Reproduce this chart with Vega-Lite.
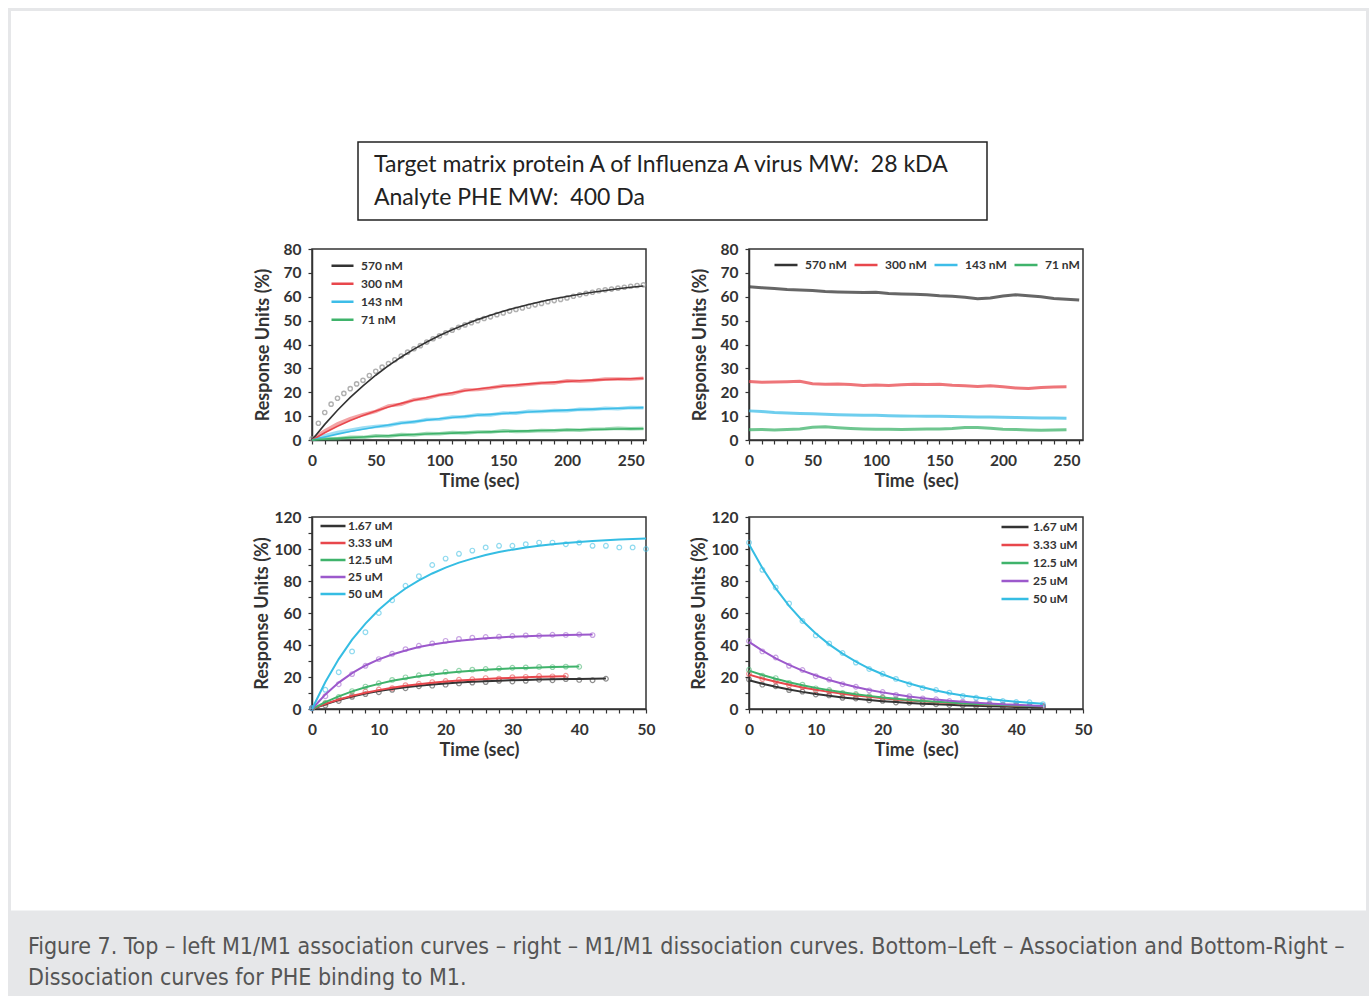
{
"$schema": "https://vega.github.io/schema/vega-lite/v6.json",
"background": "white",
"padding": {"left": 8, "top": 8, "right": 3, "bottom": 0},
"config": {
  "font": "Lato",
  "view": {"stroke": "#333333", "strokeWidth": 1.5},
  "axis": {"labelFont": "Lato", "labelFontSize": 15.5, "labelFontWeight": "bold", "labelColor": "#333333", "titleFont": "Lato", "titleFontSize": 18, "titleFontWeight": "bold", "titleColor": "#333333", "domainColor": "#333333", "domainWidth": 1.5, "tickColor": "#333333", "tickWidth": 1.2, "tickSize": 4, "grid": false, "labelFlush": false, "labelOverlap": false},
  "axisX": {"labelPadding": 9, "titlePadding": 4},
  "axisY": {"labelPadding": 7},
  "legend": {"labelFont": "Lato", "labelFontSize": 12, "labelFontWeight": "bold", "labelColor": "#333333", "symbolType": "stroke", "symbolOpacity": 1, "symbolStrokeWidth": 2.5, "padding": 0}
},
"bounds": "flush",
"spacing": 770,
"resolve": {"scale": {"x": "independent", "y": "independent", "color": "independent"}, "legend": {"color": "independent"}},
"vconcat": [
  {
    "bounds": "flush",
    "spacing": 29,
    "resolve": {"scale": {"x": "independent", "y": "independent", "color": "independent"}, "legend": {"color": "independent"}},
    "vconcat": [
      {
        "width": 770, "height": 78,
        "view": {"stroke": null},
        "data": {"values": [{"id": 1}]},
        "layer": [
          {"mark": {"type": "rect", "filled": false, "color": "#222222", "strokeWidth": 1.5},
           "encoding": {
             "x": {"datum": 46, "type": "quantitative", "scale": {"domain": [0, 770], "nice": false, "zero": false}, "axis": null},
             "x2": {"datum": 675},
             "y": {"datum": 0, "type": "quantitative", "scale": {"domain": [0, 78], "nice": false, "reverse": true}, "axis": null},
             "y2": {"datum": 78}}},
          {"mark": {"type": "text", "align": "left", "baseline": "alphabetic", "font": "Lato", "fontSize": 23, "lineHeight": 33, "color": "#222222"},
           "encoding": {
             "x": {"datum": 62, "type": "quantitative"},
             "y": {"datum": 30, "type": "quantitative"},
             "text": {"value": ["Target matrix protein A of Influenza A virus MW:\u00a0 28 kDA", "Analyte PHE MW:\u00a0 400 Da"]}}}
        ]
      },
      {
        "columns": 2,
        "bounds": "flush",
        "spacing": {"row": 77, "column": 103},
        "resolve": {"scale": {"x": "independent", "y": "independent", "color": "independent"}, "legend": {"color": "independent"}},
        "concat": [
          {
            "width": 334, "height": 191,
            "data": {"values": [
{"s":"570 nM","t":0,"fit":0,"obs":0.5},{"s":"570 nM","t":5,"obs":7},{"s":"570 nM","t":10,"fit":6.54,"obs":11.5},{"s":"570 nM","t":15,"obs":15},{"s":"570 nM","t":20,"fit":12.47,"obs":17.5},{"s":"570 nM","t":25,"obs":19.5},{"s":"570 nM","t":30,"fit":17.83,"obs":21.5},{"s":"570 nM","t":35,"obs":23.5},{"s":"570 nM","t":40,"fit":22.7,"obs":25},{"s":"570 nM","t":45,"obs":27},{"s":"570 nM","t":50,"fit":27.12,"obs":28.8},{"s":"570 nM","t":55,"obs":30.5},{"s":"570 nM","t":60,"fit":31.12,"obs":32},{"s":"570 nM","t":65,"obs":33.6},{"s":"570 nM","t":70,"fit":34.75,"obs":35.2},{"s":"570 nM","t":75,"obs":36.8},{"s":"570 nM","t":80,"fit":38.05,"obs":38.2},{"s":"570 nM","t":85,"obs":39.5},{"s":"570 nM","t":90,"fit":41.03,"obs":41},{"s":"570 nM","t":95,"obs":42.4},{"s":"570 nM","t":100,"fit":43.73,"obs":43.6},{"s":"570 nM","t":105,"obs":44.9},{"s":"570 nM","t":110,"fit":46.18,"obs":46},{"s":"570 nM","t":115,"obs":47.2},{"s":"570 nM","t":120,"fit":48.41,"obs":48.2},{"s":"570 nM","t":125,"obs":49.1},{"s":"570 nM","t":130,"fit":50.42,"obs":50},{"s":"570 nM","t":135,"obs":50.9},{"s":"570 nM","t":140,"fit":52.25,"obs":51.6},{"s":"570 nM","t":145,"obs":52.5},{"s":"570 nM","t":150,"fit":53.91,"obs":53.2},{"s":"570 nM","t":155,"obs":54},{"s":"570 nM","t":160,"fit":55.41,"obs":54.7},{"s":"570 nM","t":165,"obs":55.3},{"s":"570 nM","t":170,"fit":56.77,"obs":56},{"s":"570 nM","t":175,"obs":56.6},{"s":"570 nM","t":180,"fit":58.01,"obs":57.2},{"s":"570 nM","t":185,"obs":57.9},{"s":"570 nM","t":190,"fit":59.13,"obs":58.4},{"s":"570 nM","t":195,"obs":58.9},{"s":"570 nM","t":200,"fit":60.14,"obs":59.5},{"s":"570 nM","t":205,"obs":60.2},{"s":"570 nM","t":210,"fit":61.06,"obs":60.8},{"s":"570 nM","t":215,"obs":61.4},{"s":"570 nM","t":220,"fit":61.89,"obs":61.9},{"s":"570 nM","t":225,"obs":62.5},{"s":"570 nM","t":230,"fit":62.65,"obs":62.9},{"s":"570 nM","t":235,"obs":63.2},{"s":"570 nM","t":240,"fit":63.34,"obs":63.6},{"s":"570 nM","t":245,"obs":64},{"s":"570 nM","t":250,"fit":63.96,"obs":64.4},{"s":"570 nM","t":255,"obs":64.7},{"s":"570 nM","t":260,"fit":64.53,"obs":65},
{"s":"300 nM","t":0,"fit":0,"obs":0.3},{"s":"300 nM","t":10,"fit":3.05,"obs":3.8},{"s":"300 nM","t":20,"fit":5.76,"obs":6.8},{"s":"300 nM","t":30,"fit":8.16,"obs":8.9},{"s":"300 nM","t":40,"fit":10.29,"obs":10.6},{"s":"300 nM","t":50,"fit":12.18,"obs":12.0},{"s":"300 nM","t":60,"fit":13.86,"obs":14.3},{"s":"300 nM","t":70,"fit":15.34,"obs":15.0},{"s":"300 nM","t":80,"fit":16.66,"obs":16.9},{"s":"300 nM","t":90,"fit":17.83,"obs":17.5},{"s":"300 nM","t":100,"fit":18.87,"obs":18.9},{"s":"300 nM","t":110,"fit":19.79,"obs":19.4},{"s":"300 nM","t":120,"fit":20.6,"obs":20.9},{"s":"300 nM","t":130,"fit":21.33,"obs":21.1},{"s":"300 nM","t":140,"fit":21.97,"obs":21.8},{"s":"300 nM","t":150,"fit":22.54,"obs":22.7},{"s":"300 nM","t":160,"fit":23.04,"obs":22.8},{"s":"300 nM","t":170,"fit":23.49,"obs":23.3},{"s":"300 nM","t":180,"fit":23.89,"obs":23.9},{"s":"300 nM","t":190,"fit":24.24,"obs":23.9},{"s":"300 nM","t":200,"fit":24.55,"obs":24.8},{"s":"300 nM","t":210,"fit":24.83,"obs":24.6},{"s":"300 nM","t":220,"fit":25.07,"obs":24.9},{"s":"300 nM","t":230,"fit":25.29,"obs":25.5},{"s":"300 nM","t":240,"fit":25.48,"obs":25.6},{"s":"300 nM","t":250,"fit":25.66,"obs":25.4},{"s":"300 nM","t":260,"fit":25.81,"obs":25.9},
{"s":"143 nM","t":0,"fit":0,"obs":0.2},{"s":"143 nM","t":10,"fit":1.29,"obs":1.8},{"s":"143 nM","t":20,"fit":2.47,"obs":3.2},{"s":"143 nM","t":30,"fit":3.55,"obs":4.1},{"s":"143 nM","t":40,"fit":4.53,"obs":5.0},{"s":"143 nM","t":50,"fit":5.44,"obs":5.7},{"s":"143 nM","t":60,"fit":6.26,"obs":6.1},{"s":"143 nM","t":70,"fit":7.01,"obs":7.2},{"s":"143 nM","t":80,"fit":7.7,"obs":7.5},{"s":"143 nM","t":90,"fit":8.33,"obs":8.6},{"s":"143 nM","t":100,"fit":8.9,"obs":8.7},{"s":"143 nM","t":110,"fit":9.43,"obs":9.6},{"s":"143 nM","t":120,"fit":9.91,"obs":9.7},{"s":"143 nM","t":130,"fit":10.34,"obs":10.6},{"s":"143 nM","t":140,"fit":10.74,"obs":10.5},{"s":"143 nM","t":150,"fit":11.11,"obs":11.3},{"s":"143 nM","t":160,"fit":11.45,"obs":11.2},{"s":"143 nM","t":170,"fit":11.75,"obs":12.0},{"s":"143 nM","t":180,"fit":12.03,"obs":11.9},{"s":"143 nM","t":190,"fit":12.29,"obs":12.4},{"s":"143 nM","t":200,"fit":12.52,"obs":12.3},{"s":"143 nM","t":210,"fit":12.73,"obs":12.9},{"s":"143 nM","t":220,"fit":12.93,"obs":12.8},{"s":"143 nM","t":230,"fit":13.11,"obs":13.3},{"s":"143 nM","t":240,"fit":13.27,"obs":13.1},{"s":"143 nM","t":250,"fit":13.42,"obs":13.6},{"s":"143 nM","t":260,"fit":13.56,"obs":13.5},
{"s":"71 nM","t":0,"fit":0,"obs":0.3},{"s":"71 nM","t":10,"fit":0.35,"obs":0.6},{"s":"71 nM","t":20,"fit":0.68,"obs":0.5},{"s":"71 nM","t":30,"fit":0.99,"obs":1.2},{"s":"71 nM","t":40,"fit":1.28,"obs":1.1},{"s":"71 nM","t":50,"fit":1.56,"obs":1.8},{"s":"71 nM","t":60,"fit":1.81,"obs":1.6},{"s":"71 nM","t":70,"fit":2.06,"obs":2.3},{"s":"71 nM","t":80,"fit":2.29,"obs":2.1},{"s":"71 nM","t":90,"fit":2.5,"obs":2.7},{"s":"71 nM","t":100,"fit":2.71,"obs":2.6},{"s":"71 nM","t":110,"fit":2.9,"obs":3.1},{"s":"71 nM","t":120,"fit":3.08,"obs":2.9},{"s":"71 nM","t":130,"fit":3.25,"obs":3.4},{"s":"71 nM","t":140,"fit":3.41,"obs":3.3},{"s":"71 nM","t":150,"fit":3.56,"obs":3.9},{"s":"71 nM","t":160,"fit":3.7,"obs":3.6},{"s":"71 nM","t":170,"fit":3.84,"obs":3.7},{"s":"71 nM","t":180,"fit":3.96,"obs":4.0},{"s":"71 nM","t":190,"fit":4.08,"obs":3.9},{"s":"71 nM","t":200,"fit":4.19,"obs":4.3},{"s":"71 nM","t":210,"fit":4.3,"obs":4.1},{"s":"71 nM","t":220,"fit":4.4,"obs":4.5},{"s":"71 nM","t":230,"fit":4.49,"obs":4.6},{"s":"71 nM","t":240,"fit":4.58,"obs":4.9},{"s":"71 nM","t":250,"fit":4.66,"obs":4.7},{"s":"71 nM","t":260,"fit":4.74,"obs":4.8}
            ]},
            "encoding": {"x": {"field": "t", "type": "quantitative", "scale": {"domain": [0, 262], "nice": false}, "axis": {"title": "Time (sec)", "values": [0,10,20,30,40,50,60,70,80,90,100,110,120,130,140,150,160,170,180,190,200,210,220,230,240,250,260], "labelExpr": "datum.value % 50 === 0 ? datum.label : ''"}}},
            "layer": [
              {"transform": [{"filter": "datum.s !== '570 nM'"}],
               "mark": {"type": "line", "strokeWidth": 3.5, "opacity": 0.5},
               "encoding": {
                 "y": {"field": "obs", "type": "quantitative", "scale": {"domain": [0, 80], "nice": false}, "axis": {"title": "Response Units (%)", "values": [0,10,20,30,40,50,60,70,80], "titlePadding": 11}},
                 "color": {"field": "s", "type": "nominal", "scale": {"domain": ["570 nM","300 nM","143 nM","71 nM"], "range": ["#333333","#e8474c","#3dbde8","#3fb36b"]}, "legend": {"title": null, "orient": "none", "legendX": 18, "legendY": 8, "symbolType": "stroke", "symbolSize": 484, "clipHeight": 17.3, "rowPadding": 0, "labelOffset": 6}}}},
              {"transform": [{"filter": "datum.s === '570 nM'"}],
               "mark": {"type": "point", "filled": false, "color": "#8f8f8f", "size": 18, "strokeWidth": 1.4},
               "encoding": {"y": {"field": "obs", "type": "quantitative", "scale": {"domain": [0, 80], "nice": false}, "axis": {"title": "Response Units (%)", "values": [0,10,20,30,40,50,60,70,80], "titlePadding": 11}}}},
              {"transform": [{"filter": "isValid(datum.fit)"}],
               "mark": {"type": "line", "strokeWidth": 1.6},
               "encoding": {
                 "y": {"field": "fit", "type": "quantitative", "scale": {"domain": [0, 80], "nice": false}, "axis": {"title": "Response Units (%)", "values": [0,10,20,30,40,50,60,70,80], "titlePadding": 11}},
                 "color": {"field": "s", "type": "nominal", "scale": {"domain": ["570 nM","300 nM","143 nM","71 nM"], "range": ["#333333","#e8474c","#3dbde8","#3fb36b"]}, "legend": {"title": null, "orient": "none", "legendX": 18, "legendY": 8, "symbolType": "stroke", "symbolSize": 484, "clipHeight": 17.3, "rowPadding": 0, "labelOffset": 6}}}}
            ]
          },
          {
            "width": 334, "height": 191,
            "data": {"values": [
{"s":"570 nM","t":0,"y":64.2},{"s":"570 nM","t":10,"y":63.8},{"s":"570 nM","t":20,"y":63.5},{"s":"570 nM","t":30,"y":63},{"s":"570 nM","t":40,"y":62.8},{"s":"570 nM","t":50,"y":62.6},{"s":"570 nM","t":60,"y":62.2},{"s":"570 nM","t":70,"y":62},{"s":"570 nM","t":80,"y":61.9},{"s":"570 nM","t":90,"y":61.8},{"s":"570 nM","t":100,"y":61.9},{"s":"570 nM","t":110,"y":61.4},{"s":"570 nM","t":120,"y":61.2},{"s":"570 nM","t":130,"y":61},{"s":"570 nM","t":140,"y":60.8},{"s":"570 nM","t":150,"y":60.4},{"s":"570 nM","t":160,"y":60.2},{"s":"570 nM","t":170,"y":59.8},{"s":"570 nM","t":180,"y":59.2},{"s":"570 nM","t":190,"y":59.5},{"s":"570 nM","t":200,"y":60.3},{"s":"570 nM","t":210,"y":60.8},{"s":"570 nM","t":220,"y":60.4},{"s":"570 nM","t":230,"y":60},{"s":"570 nM","t":240,"y":59.3},{"s":"570 nM","t":250,"y":59},{"s":"570 nM","t":260,"y":58.6},
{"s":"300 nM","t":0,"y":24.5},{"s":"300 nM","t":10,"y":24.2},{"s":"300 nM","t":20,"y":24.3},{"s":"300 nM","t":30,"y":24.4},{"s":"300 nM","t":40,"y":24.6},{"s":"300 nM","t":50,"y":23.6},{"s":"300 nM","t":60,"y":23.4},{"s":"300 nM","t":70,"y":23.5},{"s":"300 nM","t":80,"y":23.2},{"s":"300 nM","t":90,"y":22.8},{"s":"300 nM","t":100,"y":23},{"s":"300 nM","t":110,"y":22.8},{"s":"300 nM","t":120,"y":23.1},{"s":"300 nM","t":130,"y":23.4},{"s":"300 nM","t":140,"y":23.2},{"s":"300 nM","t":150,"y":23.3},{"s":"300 nM","t":160,"y":22.9},{"s":"300 nM","t":170,"y":22.7},{"s":"300 nM","t":180,"y":22.4},{"s":"300 nM","t":190,"y":22.7},{"s":"300 nM","t":200,"y":22.3},{"s":"300 nM","t":210,"y":21.8},{"s":"300 nM","t":220,"y":21.6},{"s":"300 nM","t":230,"y":22},{"s":"300 nM","t":240,"y":22.2},{"s":"300 nM","t":250,"y":22.3},
{"s":"143 nM","t":0,"y":12.2},{"s":"143 nM","t":10,"y":11.9},{"s":"143 nM","t":20,"y":11.5},{"s":"143 nM","t":30,"y":11.3},{"s":"143 nM","t":40,"y":11.1},{"s":"143 nM","t":50,"y":11},{"s":"143 nM","t":60,"y":10.8},{"s":"143 nM","t":70,"y":10.6},{"s":"143 nM","t":80,"y":10.5},{"s":"143 nM","t":90,"y":10.4},{"s":"143 nM","t":100,"y":10.4},{"s":"143 nM","t":110,"y":10.2},{"s":"143 nM","t":120,"y":10.1},{"s":"143 nM","t":130,"y":10},{"s":"143 nM","t":140,"y":9.9},{"s":"143 nM","t":150,"y":9.9},{"s":"143 nM","t":160,"y":9.8},{"s":"143 nM","t":170,"y":9.7},{"s":"143 nM","t":180,"y":9.6},{"s":"143 nM","t":190,"y":9.6},{"s":"143 nM","t":200,"y":9.5},{"s":"143 nM","t":210,"y":9.4},{"s":"143 nM","t":220,"y":9.3},{"s":"143 nM","t":230,"y":9.2},{"s":"143 nM","t":240,"y":9.2},{"s":"143 nM","t":250,"y":9.1},
{"s":"71 nM","t":0,"y":4.3},{"s":"71 nM","t":10,"y":4.4},{"s":"71 nM","t":20,"y":4.2},{"s":"71 nM","t":30,"y":4.4},{"s":"71 nM","t":40,"y":4.6},{"s":"71 nM","t":50,"y":5.3},{"s":"71 nM","t":60,"y":5.5},{"s":"71 nM","t":70,"y":5.1},{"s":"71 nM","t":80,"y":4.8},{"s":"71 nM","t":90,"y":4.6},{"s":"71 nM","t":100,"y":4.5},{"s":"71 nM","t":110,"y":4.5},{"s":"71 nM","t":120,"y":4.4},{"s":"71 nM","t":130,"y":4.5},{"s":"71 nM","t":140,"y":4.6},{"s":"71 nM","t":150,"y":4.6},{"s":"71 nM","t":160,"y":4.8},{"s":"71 nM","t":170,"y":5.2},{"s":"71 nM","t":180,"y":5.2},{"s":"71 nM","t":190,"y":4.9},{"s":"71 nM","t":200,"y":4.5},{"s":"71 nM","t":210,"y":4.4},{"s":"71 nM","t":220,"y":4.2},{"s":"71 nM","t":230,"y":4.1},{"s":"71 nM","t":240,"y":4.2},{"s":"71 nM","t":250,"y":4.3}
            ]},
            "mark": {"type": "line", "strokeWidth": 3, "opacity": 0.75},
            "encoding": {
              "x": {"field": "t", "type": "quantitative", "scale": {"domain": [0, 263], "nice": false}, "axis": {"title": "Time\u00a0 (sec)", "values": [0,10,20,30,40,50,60,70,80,90,100,110,120,130,140,150,160,170,180,190,200,210,220,230,240,250,260], "labelExpr": "datum.value % 50 === 0 ? datum.label : ''"}},
              "y": {"field": "y", "type": "quantitative", "scale": {"domain": [0, 80], "nice": false}, "axis": {"title": "Response Units (%)", "values": [0,10,20,30,40,50,60,70,80], "titlePadding": 11}},
              "color": {"field": "s", "type": "nominal", "scale": {"domain": ["570 nM","300 nM","143 nM","71 nM"], "range": ["#333333","#e8474c","#3dbde8","#3fb36b"]}, "legend": {"title": null, "orient": "top-right", "direction": "horizontal", "offset": 3, "symbolSize": 529, "columnPadding": 2, "labelOffset": 6}}
            }
          },
          {
            "width": 334, "height": 192,
            "data": {"values": [
{"s":"1.67 uM","t":0,"fit":0,"obs":0.5},{"s":"1.67 uM","t":2,"fit":3.0,"obs":2.2},{"s":"1.67 uM","t":4,"fit":5.6,"obs":5.0},{"s":"1.67 uM","t":6,"fit":7.8,"obs":7.6},{"s":"1.67 uM","t":8,"fit":9.6,"obs":9.3},{"s":"1.67 uM","t":10,"fit":11.2,"obs":10.5},{"s":"1.67 uM","t":12,"fit":12.5,"obs":12.0},{"s":"1.67 uM","t":14,"fit":13.6,"obs":13.0},{"s":"1.67 uM","t":16,"fit":14.5,"obs":14.2},{"s":"1.67 uM","t":18,"fit":15.3,"obs":14.6},{"s":"1.67 uM","t":20,"fit":15.9,"obs":15.2},{"s":"1.67 uM","t":22,"fit":16.5,"obs":16.0},{"s":"1.67 uM","t":24,"fit":17.0,"obs":16.5},{"s":"1.67 uM","t":26,"fit":17.4,"obs":16.8},{"s":"1.67 uM","t":28,"fit":17.7,"obs":17.6},{"s":"1.67 uM","t":30,"fit":18.0,"obs":17.2},{"s":"1.67 uM","t":32,"fit":18.2,"obs":17.6},{"s":"1.67 uM","t":34,"fit":18.4,"obs":18.3},{"s":"1.67 uM","t":36,"fit":18.6,"obs":18.0},{"s":"1.67 uM","t":38,"fit":18.7,"obs":18.7},{"s":"1.67 uM","t":40,"fit":18.8,"obs":18.2},{"s":"1.67 uM","t":42,"fit":18.9,"obs":18.0},{"s":"1.67 uM","t":44,"fit":19.0,"obs":18.9},
{"s":"3.33 uM","t":0,"fit":0,"obs":0.4},{"s":"3.33 uM","t":2,"fit":3.2,"obs":3.5},{"s":"3.33 uM","t":4,"fit":5.9,"obs":6.3},{"s":"3.33 uM","t":6,"fit":8.2,"obs":8.6},{"s":"3.33 uM","t":8,"fit":10.2,"obs":10.9},{"s":"3.33 uM","t":10,"fit":11.8,"obs":12.2},{"s":"3.33 uM","t":12,"fit":13.3,"obs":13.0},{"s":"3.33 uM","t":14,"fit":14.5,"obs":14.9},{"s":"3.33 uM","t":16,"fit":15.5,"obs":15.8},{"s":"3.33 uM","t":18,"fit":16.4,"obs":16.8},{"s":"3.33 uM","t":20,"fit":17.2,"obs":17.5},{"s":"3.33 uM","t":22,"fit":17.8,"obs":18.3},{"s":"3.33 uM","t":24,"fit":18.3,"obs":18.6},{"s":"3.33 uM","t":26,"fit":18.8,"obs":19.3},{"s":"3.33 uM","t":28,"fit":19.2,"obs":19.0},{"s":"3.33 uM","t":30,"fit":19.5,"obs":19.9},{"s":"3.33 uM","t":32,"fit":19.8,"obs":20.1},{"s":"3.33 uM","t":34,"fit":20.1,"obs":20.6},{"s":"3.33 uM","t":36,"fit":20.3,"obs":20.4},{"s":"3.33 uM","t":38,"fit":20.5,"obs":20.8},
{"s":"12.5 uM","t":0,"fit":0,"obs":0.5},{"s":"12.5 uM","t":2,"fit":4.3,"obs":3.8},{"s":"12.5 uM","t":4,"fit":7.9,"obs":7.5},{"s":"12.5 uM","t":6,"fit":11.0,"obs":11.2},{"s":"12.5 uM","t":8,"fit":13.6,"obs":14.0},{"s":"12.5 uM","t":10,"fit":15.7,"obs":16.1},{"s":"12.5 uM","t":12,"fit":17.6,"obs":18.2},{"s":"12.5 uM","t":14,"fit":19.1,"obs":19.8},{"s":"12.5 uM","t":16,"fit":20.4,"obs":21.1},{"s":"12.5 uM","t":18,"fit":21.5,"obs":22.0},{"s":"12.5 uM","t":20,"fit":22.5,"obs":23.2},{"s":"12.5 uM","t":22,"fit":23.3,"obs":23.9},{"s":"12.5 uM","t":24,"fit":23.9,"obs":24.6},{"s":"12.5 uM","t":26,"fit":24.5,"obs":25.0},{"s":"12.5 uM","t":28,"fit":25.0,"obs":25.3},{"s":"12.5 uM","t":30,"fit":25.4,"obs":25.8},{"s":"12.5 uM","t":32,"fit":25.7,"obs":26.0},{"s":"12.5 uM","t":34,"fit":26.0,"obs":26.3},{"s":"12.5 uM","t":36,"fit":26.2,"obs":26.2},{"s":"12.5 uM","t":38,"fit":26.4,"obs":26.5},{"s":"12.5 uM","t":40,"fit":26.6,"obs":26.4},
{"s":"25 uM","t":0,"fit":0,"obs":0.5},{"s":"25 uM","t":2,"fit":9.1,"obs":8.0},{"s":"25 uM","t":4,"fit":16.5,"obs":15.5},{"s":"25 uM","t":6,"fit":22.4,"obs":21.8},{"s":"25 uM","t":8,"fit":27.2,"obs":27.0},{"s":"25 uM","t":10,"fit":31.0,"obs":31.2},{"s":"25 uM","t":12,"fit":34.1,"obs":34.5},{"s":"25 uM","t":14,"fit":36.6,"obs":37.4},{"s":"25 uM","t":16,"fit":38.7,"obs":39.5},{"s":"25 uM","t":18,"fit":40.3,"obs":41.0},{"s":"25 uM","t":20,"fit":41.6,"obs":42.6},{"s":"25 uM","t":22,"fit":42.6,"obs":43.8},{"s":"25 uM","t":24,"fit":43.5,"obs":44.6},{"s":"25 uM","t":26,"fit":44.2,"obs":45.0},{"s":"25 uM","t":28,"fit":44.7,"obs":45.2},{"s":"25 uM","t":30,"fit":45.2,"obs":45.6},{"s":"25 uM","t":32,"fit":45.5,"obs":46.0},{"s":"25 uM","t":34,"fit":45.8,"obs":45.8},{"s":"25 uM","t":36,"fit":46.0,"obs":46.4},{"s":"25 uM","t":38,"fit":46.2,"obs":46.3},{"s":"25 uM","t":40,"fit":46.4,"obs":46.6},{"s":"25 uM","t":42,"fit":46.5,"obs":46.2},
{"s":"50 uM","t":0,"fit":0,"obs":0.5},{"s":"50 uM","t":2,"fit":16.9,"obs":12},{"s":"50 uM","t":4,"fit":31.2,"obs":23},{"s":"50 uM","t":6,"fit":43.3,"obs":36},{"s":"50 uM","t":8,"fit":53.4,"obs":48},{"s":"50 uM","t":10,"fit":62.0,"obs":60},{"s":"50 uM","t":12,"fit":69.2,"obs":68},{"s":"50 uM","t":14,"fit":75.3,"obs":77},{"s":"50 uM","t":16,"fit":80.4,"obs":83},{"s":"50 uM","t":18,"fit":84.7,"obs":90},{"s":"50 uM","t":20,"fit":88.4,"obs":94},{"s":"50 uM","t":22,"fit":91.5,"obs":97},{"s":"50 uM","t":24,"fit":94.0,"obs":99},{"s":"50 uM","t":26,"fit":96.2,"obs":101},{"s":"50 uM","t":28,"fit":98.1,"obs":102},{"s":"50 uM","t":30,"fit":99.6,"obs":102},{"s":"50 uM","t":32,"fit":100.9,"obs":103},{"s":"50 uM","t":34,"fit":102.0,"obs":104},{"s":"50 uM","t":36,"fit":103.0,"obs":104},{"s":"50 uM","t":38,"fit":103.8,"obs":103},{"s":"50 uM","t":40,"fit":104.4,"obs":104},{"s":"50 uM","t":42,"fit":105.0,"obs":102},{"s":"50 uM","t":44,"fit":105.5,"obs":102},{"s":"50 uM","t":46,"fit":105.9,"obs":101},{"s":"50 uM","t":48,"fit":106.2,"obs":101},{"s":"50 uM","t":50,"fit":106.5,"obs":100}
            ]},
            "encoding": {"x": {"field": "t", "type": "quantitative", "scale": {"domain": [0, 50], "nice": false}, "axis": {"title": "Time (sec)", "values": [0,2,4,6,8,10,12,14,16,18,20,22,24,26,28,30,32,34,36,38,40,42,44,46,48,50], "labelExpr": "datum.value % 10 === 0 ? datum.label : ''"}}},
            "layer": [
              {"mark": {"type": "point", "filled": false, "size": 22, "strokeWidth": 1.2, "opacity": 0.55},
               "encoding": {
                 "y": {"field": "obs", "type": "quantitative", "scale": {"domain": [0, 120], "nice": false}, "axis": {"title": "Response Units (%)", "values": [0,10,20,30,40,50,60,70,80,90,100,110,120], "labelExpr": "datum.value % 20 === 0 ? datum.label : ''", "titlePadding": 3}},
                 "color": {"field": "s", "type": "nominal", "scale": {"domain": ["1.67 uM","3.33 uM","12.5 uM","25 uM","50 uM"], "range": ["#333333","#e8474c","#3fb36b","#9c59cc","#35bde3"]}, "legend": {"title": null, "orient": "none", "legendX": 7, "legendY": 0.5, "symbolType": "stroke", "symbolSize": 625, "clipHeight": 17, "rowPadding": 0, "labelOffset": 1}}}},
              {"mark": {"type": "line", "strokeWidth": 2},
               "encoding": {
                 "y": {"field": "fit", "type": "quantitative", "scale": {"domain": [0, 120], "nice": false}, "axis": {"title": "Response Units (%)", "values": [0,10,20,30,40,50,60,70,80,90,100,110,120], "labelExpr": "datum.value % 20 === 0 ? datum.label : ''", "titlePadding": 3}},
                 "color": {"field": "s", "type": "nominal", "scale": {"domain": ["1.67 uM","3.33 uM","12.5 uM","25 uM","50 uM"], "range": ["#333333","#e8474c","#3fb36b","#9c59cc","#35bde3"]}, "legend": {"title": null, "orient": "none", "legendX": 7, "legendY": 0.5, "symbolType": "stroke", "symbolSize": 625, "clipHeight": 17, "rowPadding": 0, "labelOffset": 1}}}}
            ]
          },
          {
            "width": 334, "height": 192,
            "data": {"values": [
{"s":"1.67 uM","t":0,"fit":18,"obs":18.5},{"s":"1.67 uM","t":2,"fit":15.8,"obs":15.2},{"s":"1.67 uM","t":4,"fit":13.9,"obs":14.2},{"s":"1.67 uM","t":6,"fit":12.2,"obs":11.8},{"s":"1.67 uM","t":8,"fit":10.7,"obs":10.9},{"s":"1.67 uM","t":10,"fit":9.4,"obs":9.1},{"s":"1.67 uM","t":12,"fit":8.3,"obs":8.5},{"s":"1.67 uM","t":14,"fit":7.2,"obs":7.0},{"s":"1.67 uM","t":16,"fit":6.4,"obs":6.6},{"s":"1.67 uM","t":18,"fit":5.6,"obs":5.4},{"s":"1.67 uM","t":20,"fit":4.9,"obs":5.1},{"s":"1.67 uM","t":22,"fit":4.3,"obs":4.1},{"s":"1.67 uM","t":24,"fit":3.8,"obs":3.9},{"s":"1.67 uM","t":26,"fit":3.3,"obs":3.2},{"s":"1.67 uM","t":28,"fit":2.9,"obs":3.0},{"s":"1.67 uM","t":30,"fit":2.6,"obs":2.5},{"s":"1.67 uM","t":32,"fit":2.2,"obs":2.3},{"s":"1.67 uM","t":34,"fit":2.0,"obs":1.9},{"s":"1.67 uM","t":36,"fit":1.7,"obs":1.8},{"s":"1.67 uM","t":38,"fit":1.5,"obs":1.4},{"s":"1.67 uM","t":40,"fit":1.3,"obs":1.4},{"s":"1.67 uM","t":42,"fit":1.2,"obs":1.1},{"s":"1.67 uM","t":44,"fit":1.0,"obs":1.1},
{"s":"3.33 uM","t":0,"fit":21.5,"obs":22},{"s":"3.33 uM","t":2,"fit":19.1,"obs":18.7},{"s":"3.33 uM","t":4,"fit":17.0,"obs":17.3},{"s":"3.33 uM","t":6,"fit":15.2,"obs":14.9},{"s":"3.33 uM","t":8,"fit":13.5,"obs":13.7},{"s":"3.33 uM","t":10,"fit":12.0,"obs":11.7},{"s":"3.33 uM","t":12,"fit":10.7,"obs":10.9},{"s":"3.33 uM","t":14,"fit":9.5,"obs":9.3},{"s":"3.33 uM","t":16,"fit":8.5,"obs":8.7},{"s":"3.33 uM","t":18,"fit":7.6,"obs":7.4},{"s":"3.33 uM","t":20,"fit":6.7,"obs":6.9},{"s":"3.33 uM","t":22,"fit":6.0,"obs":5.8},{"s":"3.33 uM","t":24,"fit":5.3,"obs":5.5},{"s":"3.33 uM","t":26,"fit":4.8,"obs":4.6},{"s":"3.33 uM","t":28,"fit":4.2,"obs":4.3},{"s":"3.33 uM","t":30,"fit":3.8,"obs":3.7},{"s":"3.33 uM","t":32,"fit":3.4,"obs":3.5},{"s":"3.33 uM","t":34,"fit":3.0,"obs":2.9},{"s":"3.33 uM","t":36,"fit":2.7,"obs":2.8},{"s":"3.33 uM","t":38,"fit":2.4,"obs":2.3},{"s":"3.33 uM","t":40,"fit":2.1,"obs":2.2},{"s":"3.33 uM","t":42,"fit":1.9,"obs":1.8},{"s":"3.33 uM","t":44,"fit":1.7,"obs":1.8},
{"s":"12.5 uM","t":0,"fit":24,"obs":24.5},{"s":"12.5 uM","t":2,"fit":21.3,"obs":20.8},{"s":"12.5 uM","t":4,"fit":18.9,"obs":19.3},{"s":"12.5 uM","t":6,"fit":16.7,"obs":16.3},{"s":"12.5 uM","t":8,"fit":14.9,"obs":15.2},{"s":"12.5 uM","t":10,"fit":13.2,"obs":12.9},{"s":"12.5 uM","t":12,"fit":11.7,"obs":11.9},{"s":"12.5 uM","t":14,"fit":10.4,"obs":10.1},{"s":"12.5 uM","t":16,"fit":9.2,"obs":9.4},{"s":"12.5 uM","t":18,"fit":8.2,"obs":8.0},{"s":"12.5 uM","t":20,"fit":7.2,"obs":7.4},{"s":"12.5 uM","t":22,"fit":6.4,"obs":6.2},{"s":"12.5 uM","t":24,"fit":5.7,"obs":5.9},{"s":"12.5 uM","t":26,"fit":5.0,"obs":4.8},{"s":"12.5 uM","t":28,"fit":4.5,"obs":4.6},{"s":"12.5 uM","t":30,"fit":4.0,"obs":3.8},{"s":"12.5 uM","t":32,"fit":3.5,"obs":3.6},{"s":"12.5 uM","t":34,"fit":3.1,"obs":3.0},{"s":"12.5 uM","t":36,"fit":2.8,"obs":2.9},{"s":"12.5 uM","t":38,"fit":2.5,"obs":2.4},{"s":"12.5 uM","t":40,"fit":2.2,"obs":2.3},{"s":"12.5 uM","t":42,"fit":1.9,"obs":1.8},{"s":"12.5 uM","t":44,"fit":1.7,"obs":1.8},
{"s":"25 uM","t":0,"fit":42,"obs":42.5},{"s":"25 uM","t":2,"fit":36.5,"obs":36},{"s":"25 uM","t":4,"fit":31.7,"obs":32.2},{"s":"25 uM","t":6,"fit":27.6,"obs":27.0},{"s":"25 uM","t":8,"fit":24.0,"obs":24.4},{"s":"25 uM","t":10,"fit":20.9,"obs":20.5},{"s":"25 uM","t":12,"fit":18.1,"obs":18.4},{"s":"25 uM","t":14,"fit":15.8,"obs":15.5},{"s":"25 uM","t":16,"fit":13.7,"obs":13.9},{"s":"25 uM","t":18,"fit":11.9,"obs":11.6},{"s":"25 uM","t":20,"fit":10.4,"obs":10.6},{"s":"25 uM","t":22,"fit":9.0,"obs":8.8},{"s":"25 uM","t":24,"fit":7.8,"obs":8.0},{"s":"25 uM","t":26,"fit":6.8,"obs":6.6},{"s":"25 uM","t":28,"fit":5.9,"obs":6.1},{"s":"25 uM","t":30,"fit":5.1,"obs":5.0},{"s":"25 uM","t":32,"fit":4.5,"obs":4.6},{"s":"25 uM","t":34,"fit":3.9,"obs":3.8},{"s":"25 uM","t":36,"fit":3.4,"obs":3.5},{"s":"25 uM","t":38,"fit":2.9,"obs":2.8},{"s":"25 uM","t":40,"fit":2.6,"obs":2.7},{"s":"25 uM","t":42,"fit":2.2,"obs":2.1},{"s":"25 uM","t":44,"fit":1.9,"obs":2.0},
{"s":"50 uM","t":0,"fit":103,"obs":104},{"s":"50 uM","t":2,"fit":88.1,"obs":87},{"s":"50 uM","t":4,"fit":75.4,"obs":76},{"s":"50 uM","t":6,"fit":64.5,"obs":66},{"s":"50 uM","t":8,"fit":55.2,"obs":55},{"s":"50 uM","t":10,"fit":47.2,"obs":46},{"s":"50 uM","t":12,"fit":40.4,"obs":41},{"s":"50 uM","t":14,"fit":34.6,"obs":35},{"s":"50 uM","t":16,"fit":29.6,"obs":29},{"s":"50 uM","t":18,"fit":25.3,"obs":25},{"s":"50 uM","t":20,"fit":21.7,"obs":22},{"s":"50 uM","t":22,"fit":18.5,"obs":18.8},{"s":"50 uM","t":24,"fit":15.9,"obs":15.5},{"s":"50 uM","t":26,"fit":13.6,"obs":13.2},{"s":"50 uM","t":28,"fit":11.6,"obs":11.9},{"s":"50 uM","t":30,"fit":9.9,"obs":10.2},{"s":"50 uM","t":32,"fit":8.5,"obs":8.2},{"s":"50 uM","t":34,"fit":7.3,"obs":7.0},{"s":"50 uM","t":36,"fit":6.2,"obs":6.5},{"s":"50 uM","t":38,"fit":5.3,"obs":5.0},{"s":"50 uM","t":40,"fit":4.6,"obs":4.4},{"s":"50 uM","t":42,"fit":3.9,"obs":4.2},{"s":"50 uM","t":44,"fit":3.3,"obs":3.0}
            ]},
            "encoding": {"x": {"field": "t", "type": "quantitative", "scale": {"domain": [0, 50], "nice": false}, "axis": {"title": "Time\u00a0 (sec)", "values": [0,2,4,6,8,10,12,14,16,18,20,22,24,26,28,30,32,34,36,38,40,42,44,46,48,50], "labelExpr": "datum.value % 10 === 0 ? datum.label : ''"}}},
            "layer": [
              {"mark": {"type": "point", "filled": false, "size": 22, "strokeWidth": 1.2, "opacity": 0.55},
               "encoding": {
                 "y": {"field": "obs", "type": "quantitative", "scale": {"domain": [0, 120], "nice": false}, "axis": {"title": "Response Units (%)", "values": [0,10,20,30,40,50,60,70,80,90,100,110,120], "labelExpr": "datum.value % 20 === 0 ? datum.label : ''", "titlePadding": 3}},
                 "color": {"field": "s", "type": "nominal", "scale": {"domain": ["1.67 uM","3.33 uM","12.5 uM","25 uM","50 uM"], "range": ["#333333","#e8474c","#3fb36b","#9c59cc","#35bde3"]}, "legend": {"title": null, "orient": "none", "legendX": 251, "legendY": 1.25, "symbolType": "stroke", "symbolSize": 729, "clipHeight": 17.5, "rowPadding": 0, "labelOffset": 3}}}},
              {"mark": {"type": "line", "strokeWidth": 2},
               "encoding": {
                 "y": {"field": "fit", "type": "quantitative", "scale": {"domain": [0, 120], "nice": false}, "axis": {"title": "Response Units (%)", "values": [0,10,20,30,40,50,60,70,80,90,100,110,120], "labelExpr": "datum.value % 20 === 0 ? datum.label : ''", "titlePadding": 3}},
                 "color": {"field": "s", "type": "nominal", "scale": {"domain": ["1.67 uM","3.33 uM","12.5 uM","25 uM","50 uM"], "range": ["#333333","#e8474c","#3fb36b","#9c59cc","#35bde3"]}, "legend": {"title": null, "orient": "none", "legendX": 251, "legendY": 1.25, "symbolType": "stroke", "symbolSize": 729, "clipHeight": 17.5, "rowPadding": 0, "labelOffset": 3}}}}
            ]
          }
        ]
      }
    ]
  },
  {
    "width": 770, "height": 84,
    "view": {"stroke": null},
    "data": {"values": [{"id": 1}]},
    "layer": [
      {"mark": {"type": "rect", "color": "#e6e7e9"},
       "encoding": {
         "x": {"datum": -304, "type": "quantitative", "scale": {"domain": [0, 770], "nice": false, "zero": false}, "axis": null},
         "x2": {"datum": 1057},
         "y": {"datum": 0, "type": "quantitative", "scale": {"domain": [0, 84], "nice": false, "reverse": true}, "axis": null},
         "y2": {"datum": 84}}},
      {"mark": {"type": "rect", "filled": false, "color": "#e6e7e9", "strokeWidth": 3},
       "encoding": {
         "x": {"datum": -302.5, "type": "quantitative"},
         "x2": {"datum": 1055.5},
         "y": {"datum": -902.5, "type": "quantitative"},
         "y2": {"datum": 0}}},
      {"mark": {"type": "text", "align": "left", "baseline": "alphabetic", "font": "Liberation Sans Narrow, DejaVu Sans Condensed, sans-serif", "fontSize": 23, "lineHeight": 31, "color": "#555555"},
       "encoding": {
         "x": {"datum": -284, "type": "quantitative"},
         "y": {"datum": 42, "type": "quantitative"},
         "text": {"value": ["Figure 7. Top – left M1/M1 association curves – right – M1/M1 dissociation curves. Bottom–Left – Association and Bottom-Right –", "Dissociation curves for PHE binding to M1."]}}}
    ]
  }
]
}
